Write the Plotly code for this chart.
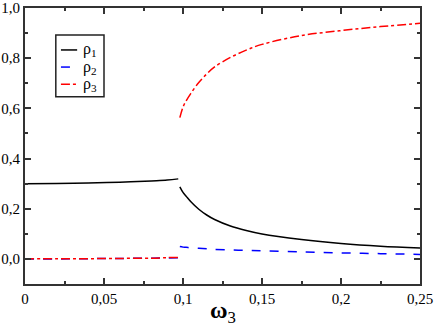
import plotly.graph_objects as go

# omega_3 values, branch before the jump
w_low = [0, 0.02, 0.04, 0.06, 0.08, 0.09, 0.097]
rho1_low = [0.300, 0.301, 0.303, 0.306, 0.311, 0.314, 0.319]
rho2_low = [0.000, 0.000, 0.001, 0.002, 0.003, 0.004, 0.005]
rho3_low = [0.000, 0.001, 0.001, 0.002, 0.003, 0.005, 0.006]

# branch after the jump
w_high = [0.098, 0.1, 0.102, 0.105, 0.11, 0.115, 0.12, 0.13, 0.14, 0.15,
          0.175, 0.2, 0.225, 0.25]
rho1_high = [0.287, 0.265, 0.250, 0.228, 0.198, 0.175, 0.157, 0.131, 0.113,
             0.099, 0.077, 0.061, 0.050, 0.043]
rho2_high = [0.049, 0.047, 0.046, 0.044, 0.042, 0.040, 0.038, 0.036, 0.034,
             0.032, 0.028, 0.024, 0.021, 0.018]
rho3_high = [0.563, 0.605, 0.630, 0.660, 0.703, 0.737, 0.765, 0.803, 0.832,
             0.855, 0.890, 0.910, 0.926, 0.939]

x_ticks = [0, 0.05, 0.1, 0.15, 0.2, 0.25]
x_labels = ["0", "0,05", "0,1", "0,15", "0,2", "0,25"]
y_ticks = [0, 0.2, 0.4, 0.6, 0.8, 1.0]
y_labels = ["0,0", "0,2", "0,4", "0,6", "0,8", "1,0"]

series = [
    ("ρ<sub>1</sub>", rho1_low, rho1_high, "black", "solid"),
    ("ρ<sub>2</sub>", rho2_low, rho2_high, "blue", "dash"),
    ("ρ<sub>3</sub>", rho3_low, rho3_high, "red", "dashdot"),
]
FONT = "Times New Roman"

fig = go.Figure()
for name, lo, hi, col, dash in series:
    fig.add_trace(go.Scatter(x=w_low, y=lo, mode="lines", name=name, showlegend=False,
                             line=dict(color=col, dash=dash, width=1.5, shape="spline")))
    fig.add_trace(go.Scatter(x=w_high, y=hi, mode="lines", showlegend=False,
                             line=dict(color=col, dash=dash, width=1.5, shape="spline")))

# hand-made legend box (plotly's line samples are too long)
fig.add_shape(type="rect", xref="paper", yref="paper", x0=0.078, x1=0.2,
              y0=0.678, y1=0.902, line=dict(color="#222", width=1.5),
              fillcolor="white", layer="above")
for i, (name, lo, hi, col, dash) in enumerate(series):
    yy = 0.848 - i * 0.062
    fig.add_shape(type="line", xref="paper", yref="paper", x0=0.091, x1=0.132,
                  y0=yy, y1=yy, line=dict(color=col, dash=dash, width=1.5),
                  layer="above")
    fig.add_annotation(x=0.142, y=yy, xref="paper", yref="paper", text=name,
                       showarrow=False, xanchor="left", yanchor="middle",
                       font=dict(family=FONT, size=16, color="black"))

# x axis title, placed by hand
fig.add_annotation(x=0.5, y=-0.1, xref="paper", yref="paper",
                   text="<b>ω</b><sub>3</sub>", showarrow=False, yanchor="middle",
                   font=dict(family=FONT, size=24, color="black"))

axis = dict(showline=True, linecolor="#333", linewidth=2, mirror="allticks",
            ticks="inside", ticklen=6, tickwidth=1.5, tickcolor="#333",
            showgrid=False, zeroline=False, automargin=False,
            tickfont=dict(family=FONT, size=15, color="black"))

fig.update_xaxes(range=[0, 0.25], tickvals=x_ticks, ticktext=x_labels,
                 minor=dict(ticks="inside", ticklen=3, dtick=0.025, tickcolor="#333"),
                 **axis)
fig.update_yaxes(range=[-0.1, 1.0], tickvals=y_ticks, ticktext=y_labels,
                 minor=dict(ticks="inside", ticklen=3, dtick=0.1, tick0=0, tickcolor="#333"),
                 **axis)

fig.update_layout(
    width=436, height=331,
    margin=dict(l=25, r=16, t=8, b=47),
    plot_bgcolor="white", paper_bgcolor="white",
    font=dict(family=FONT, size=15, color="black"),
    showlegend=False,
)

fig.write_html("out.html", config={"displayModeBar": False},
               post_script="document.body.style.margin='0';")
